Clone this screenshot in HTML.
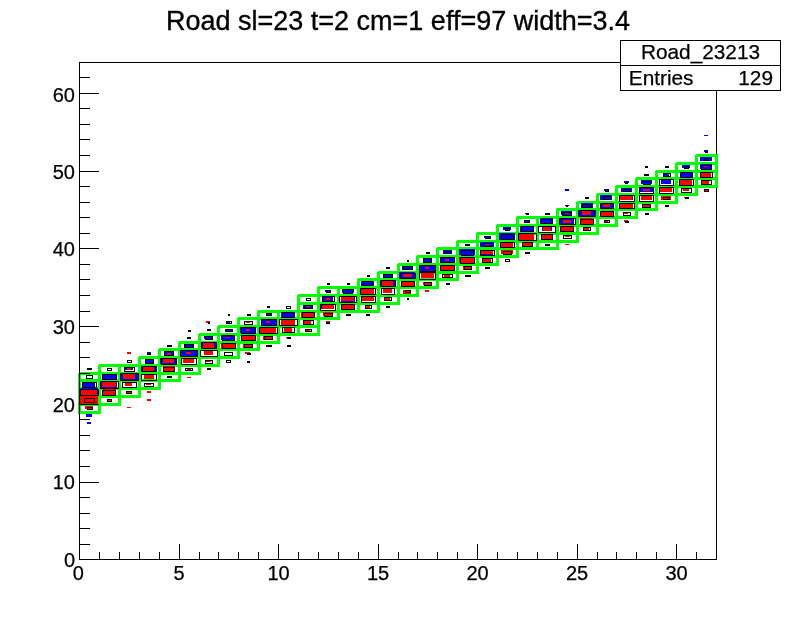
<!DOCTYPE html>
<html><head><meta charset="utf-8"><title>Road sl=23 t=2 cm=1 eff=97 width=3.4</title><style>html,body{margin:0;padding:0;background:#fff}svg{display:block}</style></head><body>
<svg width="796" height="622" viewBox="0 0 796 622" font-family="'Liberation Sans', sans-serif" shape-rendering="crispEdges">
<rect width="796" height="622" fill="#fff"/>
<rect x="79.5" y="62.5" width="637.0" height="497.0" fill="none" stroke="#000" stroke-width="1"/>
<path d="M79 404.5H99.5V412.5H79.5V404M79 396.5H99.5V404.5H79.5V396M79 388.5H99.5V396.5H79.5V388M79 380.5H99.5V388.5H79.5V380M79 373.5H99.5V380.5H79.5V373M99 396.5H119.5V404.5H99.5V396M99 388.5H119.5V396.5H99.5V388M99 380.5H119.5V388.5H99.5V380M99 373.5H119.5V380.5H99.5V373M99 365.5H119.5V373.5H99.5V365M119 388.5H139.5V396.5H119.5V388M119 380.5H139.5V388.5H119.5V380M119 373.5H139.5V380.5H119.5V373M119 365.5H139.5V373.5H119.5V365M139 380.5H159.5V388.5H139.5V380M139 373.5H159.5V380.5H139.5V373M139 365.5H159.5V373.5H139.5V365M139 357.5H159.5V365.5H139.5V357M159 373.5H179.5V380.5H159.5V373M159 365.5H179.5V373.5H159.5V365M159 357.5H179.5V365.5H159.5V357M159 349.5H179.5V357.5H159.5V349M179 365.5H199.5V373.5H179.5V365M179 357.5H199.5V365.5H179.5V357M179 349.5H199.5V357.5H179.5V349M179 342.5H199.5V349.5H179.5V342M199 357.5H218.5V365.5H199.5V357M199 349.5H218.5V357.5H199.5V349M199 342.5H218.5V349.5H199.5V342M199 334.5H218.5V342.5H199.5V334M218 349.5H238.5V357.5H218.5V349M218 342.5H238.5V349.5H218.5V342M218 334.5H238.5V342.5H218.5V334M218 326.5H238.5V334.5H218.5V326M238 342.5H258.5V349.5H238.5V342M238 334.5H258.5V342.5H238.5V334M238 326.5H258.5V334.5H238.5V326M238 318.5H258.5V326.5H238.5V318M258 334.5H278.5V342.5H258.5V334M258 326.5H278.5V334.5H258.5V326M258 318.5H278.5V326.5H258.5V318M258 311.5H278.5V318.5H258.5V311M278 326.5H298.5V334.5H278.5V326M278 318.5H298.5V326.5H278.5V318M278 311.5H298.5V318.5H278.5V311M298 326.5H318.5V334.5H298.5V326M298 318.5H318.5V326.5H298.5V318M298 311.5H318.5V318.5H298.5V311M298 303.5H318.5V311.5H298.5V303M298 295.5H318.5V303.5H298.5V295M318 311.5H338.5V318.5H318.5V311M318 303.5H338.5V311.5H318.5V303M318 295.5H338.5V303.5H318.5V295M318 287.5H338.5V295.5H318.5V287M338 303.5H358.5V311.5H338.5V303M338 295.5H358.5V303.5H338.5V295M338 287.5H358.5V295.5H338.5V287M358 303.5H378.5V311.5H358.5V303M358 295.5H378.5V303.5H358.5V295M358 287.5H378.5V295.5H358.5V287M358 279.5H378.5V287.5H358.5V279M378 295.5H398.5V303.5H378.5V295M378 287.5H398.5V295.5H378.5V287M378 279.5H398.5V287.5H378.5V279M378 272.5H398.5V279.5H378.5V272M398 287.5H417.5V295.5H398.5V287M398 279.5H417.5V287.5H398.5V279M398 272.5H417.5V279.5H398.5V272M398 264.5H417.5V272.5H398.5V264M417 279.5H437.5V287.5H417.5V279M417 272.5H437.5V279.5H417.5V272M417 264.5H437.5V272.5H417.5V264M417 256.5H437.5V264.5H417.5V256M437 272.5H457.5V279.5H437.5V272M437 264.5H457.5V272.5H437.5V264M437 256.5H457.5V264.5H437.5V256M437 248.5H457.5V256.5H437.5V248M457 264.5H477.5V272.5H457.5V264M457 256.5H477.5V264.5H457.5V256M457 248.5H477.5V256.5H457.5V248M457 241.5H477.5V248.5H457.5V241M477 256.5H497.5V264.5H477.5V256M477 248.5H497.5V256.5H477.5V248M477 241.5H497.5V248.5H477.5V241M477 233.5H497.5V241.5H477.5V233M497 248.5H517.5V256.5H497.5V248M497 241.5H517.5V248.5H497.5V241M497 233.5H517.5V241.5H497.5V233M497 225.5H517.5V233.5H497.5V225M517 241.5H537.5V248.5H517.5V241M517 233.5H537.5V241.5H517.5V233M517 225.5H537.5V233.5H517.5V225M517 217.5H537.5V225.5H517.5V217M537 241.5H557.5V248.5H537.5V241M537 233.5H557.5V241.5H537.5V233M537 225.5H557.5V233.5H537.5V225M537 217.5H557.5V225.5H537.5V217M557 233.5H577.5V241.5H557.5V233M557 225.5H577.5V233.5H557.5V225M557 217.5H577.5V225.5H557.5V217M557 209.5H577.5V217.5H557.5V209M577 225.5H597.5V233.5H577.5V225M577 217.5H597.5V225.5H577.5V217M577 209.5H597.5V217.5H577.5V209M577 202.5H597.5V209.5H577.5V202M597 217.5H616.5V225.5H597.5V217M597 209.5H616.5V217.5H597.5V209M597 202.5H616.5V209.5H597.5V202M597 194.5H616.5V202.5H597.5V194M616 209.5H636.5V217.5H616.5V209M616 202.5H636.5V209.5H616.5V202M616 194.5H636.5V202.5H616.5V194M616 186.5H636.5V194.5H616.5V186M636 202.5H656.5V209.5H636.5V202M636 194.5H656.5V202.5H636.5V194M636 186.5H656.5V194.5H636.5V186M636 178.5H656.5V186.5H636.5V178M656 194.5H676.5V202.5H656.5V194M656 186.5H676.5V194.5H656.5V186M656 178.5H676.5V186.5H656.5V178M656 171.5H676.5V178.5H656.5V171M676 186.5H696.5V194.5H676.5V186M676 178.5H696.5V186.5H676.5V178M676 171.5H696.5V178.5H676.5V171M676 163.5H696.5V171.5H676.5V163M696 178.5H716.5V186.5H696.5V178M696 171.5H716.5V178.5H696.5V171M696 163.5H716.5V171.5H696.5V163M696 155.5H716.5V163.5H696.5V155" fill="none" stroke="#00ff00" stroke-width="3" stroke-linejoin="miter"/>
<path d="M79.5 62.0V560.0M79.0 559.5H717.0M79.5 559.5v-16M99.5 559.5v-8M119.5 559.5v-8M139.5 559.5v-8M159.5 559.5v-8M179.5 559.5v-16M199.5 559.5v-8M218.5 559.5v-8M238.5 559.5v-8M258.5 559.5v-8M278.5 559.5v-16M298.5 559.5v-8M318.5 559.5v-8M338.5 559.5v-8M358.5 559.5v-8M378.5 559.5v-16M398.5 559.5v-8M417.5 559.5v-8M437.5 559.5v-8M457.5 559.5v-8M477.5 559.5v-16M497.5 559.5v-8M517.5 559.5v-8M537.5 559.5v-8M557.5 559.5v-8M577.5 559.5v-16M597.5 559.5v-8M616.5 559.5v-8M636.5 559.5v-8M656.5 559.5v-8M676.5 559.5v-16M696.5 559.5v-8M716.5 559.5v-8M79.5 559.5h19M79.5 544.5h10M79.5 528.5h10M79.5 513.5h10M79.5 497.5h10M79.5 482.5h19M79.5 466.5h10M79.5 450.5h10M79.5 435.5h10M79.5 419.5h10M79.5 404.5h19M79.5 388.5h10M79.5 373.5h10M79.5 357.5h10M79.5 342.5h10M79.5 326.5h19M79.5 311.5h10M79.5 295.5h10M79.5 279.5h10M79.5 264.5h10M79.5 248.5h19M79.5 233.5h10M79.5 217.5h10M79.5 202.5h10M79.5 186.5h10M79.5 171.5h19M79.5 155.5h10M79.5 139.5h10M79.5 124.5h10M79.5 108.5h10M79.5 93.5h19M79.5 77.5h10M79.5 62.5h10" stroke="#000" stroke-width="1" fill="none"/>
<path d="M83 383h12v4h-12zM80 388h18v8h-18zM86 414h6v3h-6zM87 422h4v2h-4zM102 374h14v5h-14zM101 381h16v7h-16zM125 367h8v3h-8zM120 373h18v7h-18zM147 352h4v2h-4zM145 359h8v4h-8zM141 366h16v6h-16zM165 352h8v3h-8zM160 358h17v6h-17zM184 344h9v3h-9zM181 351h17v6h-17zM204 336h8v3h-8zM201 343h15v5h-15zM227 322h3v1h-3zM226 329h6v3h-6zM221 335h13v5h-13zM240 327h15v6h-15zM266 313h5v3h-5zM262 320h14v6h-14zM281 312h13v6h-13zM303 305h9v4h-9zM325 290h5v2h-5zM322 297h11v4h-11zM321 304h13v5h-13zM342 289h12v4h-12zM341 296h14v6h-14zM361 281h13v5h-13zM383 274h9v3h-9zM380 280h15v6h-15zM402 266h10v4h-10zM399 272h16v7h-16zM424 258h8v4h-8zM420 265h15v6h-15zM443 250h9v4h-9zM441 258h13v4h-13zM459 249h16v6h-16zM484 236h6v2h-6zM480 242h14v5h-14zM481 251h12v4h-12zM503 227h8v3h-8zM499 233h16v7h-16zM525 213h2v1h-2zM525 220h4v2h-4zM520 226h13v6h-13zM540 218h13v6h-13zM542 227h10v4h-10zM565 189h4v2h-4zM565 205h4v1h-4zM561 211h11v4h-11zM560 218h14v6h-14zM581 203h12v5h-12zM578 210h18v7h-18zM604 189h4v2h-4zM600 195h12v5h-12zM600 203h13v5h-13zM624 181h5v2h-5zM621 188h11v4h-11zM620 195h13v5h-13zM641 180h11v4h-11zM640 188h13v4h-13zM664 174h5v2h-5zM661 180h10v4h-10zM682 165h8v3h-8zM680 172h12v5h-12zM704 135h4v1h-4zM704 150h4v2h-4zM700 157h12v4h-12zM700 164h12v5h-12z" fill="#0000ff"/>
<path d="M81 390h16v5h-16zM80 396h18v8h-18zM85 406h8v3h-8zM102 382h14v5h-14zM103 389h13v6h-13zM108 400h3v1h-3zM127 352h4v2h-4zM127 368h4v2h-4zM123 374h12v5h-12zM125 383h7v3h-7zM127 392h4v1h-4zM127 407h4v1h-4zM143 367h11v4h-11zM144 375h10v4h-10zM146 383h5v2h-5zM147 391h4v2h-4zM147 399h4v2h-4zM167 353h4v2h-4zM163 359h11v4h-11zM163 366h12v6h-12zM186 352h5v2h-5zM183 359h11v4h-11zM187 369h4v1h-4zM187 377h4v1h-4zM206 321h4v2h-4zM203 343h11v5h-11zM204 351h9v4h-9zM206 360h5v2h-5zM226 337h4v1h-4zM221 343h14v6h-14zM246 321h4v2h-4zM246 329h4v2h-4zM242 336h14v5h-14zM243 344h9v4h-9zM245 352h5v2h-5zM266 321h4v2h-4zM260 327h16v6h-16zM263 336h9v4h-9zM281 320h14v5h-14zM284 328h8v4h-8zM286 337h4v1h-4zM306 306h4v1h-4zM301 312h13v6h-13zM304 321h7v3h-7zM306 329h4v2h-4zM326 298h4v2h-4zM322 304h12v5h-12zM323 312h10v4h-10zM326 321h4v2h-4zM341 296h13v5h-13zM342 305h13v5h-13zM361 288h13v6h-13zM362 297h12v4h-12zM366 306h4v2h-4zM382 281h11v5h-11zM383 289h9v4h-9zM385 298h5v2h-5zM403 274h9v3h-9zM401 281h13v5h-13zM403 290h8v4h-8zM425 267h4v2h-4zM421 273h13v5h-13zM423 282h8v3h-8zM425 290h4v2h-4zM445 259h4v2h-4zM441 265h13v5h-13zM444 274h6v3h-6zM459 257h15v6h-15zM463 266h8v4h-8zM485 244h4v1h-4zM481 251h12v3h-12zM483 258h8v4h-8zM501 242h12v5h-12zM501 250h12v4h-12zM519 234h15v6h-15zM522 243h10v4h-10zM543 227h8v4h-8zM542 235h10v4h-10zM565 212h4v2h-4zM563 220h8v3h-8zM560 226h13v5h-13zM565 236h5v1h-5zM565 244h4v1h-4zM582 211h9v4h-9zM580 218h13v6h-13zM584 228h5v2h-5zM603 204h7v3h-7zM600 211h13v5h-13zM604 220h4v2h-4zM620 195h12v5h-12zM620 203h13v5h-13zM624 213h4v1h-4zM624 220h4v2h-4zM643 189h7v2h-7zM641 196h11v4h-11zM642 204h9v3h-9zM660 188h12v4h-12zM661 196h10v4h-10zM680 180h12v5h-12zM683 189h6v2h-6zM684 197h4v1h-4zM704 166h4v1h-4zM701 172h10v5h-10zM702 181h7v3h-7zM705 190h3v1h-3z" fill="#ff0000"/>
<path d="M87.5 368.5h4v1h-4zM86.5 375.5h6v3h-6zM82.5 382.5h14v5h-14zM80.5 389.5h18v6h-18zM84.5 398.5h10v4h-10zM87.5 407.5h5v2h-5zM107.5 368.5h4v2h-4zM102.5 374.5h14v5h-14zM100.5 381.5h18v7h-18zM102.5 390.5h13v5h-13zM107.5 399.5h4v2h-4zM127.5 360.5h4v2h-4zM124.5 367.5h10v4h-10zM120.5 373.5h18v7h-18zM122.5 382.5h14v5h-14zM126.5 391.5h5v2h-5zM147.5 353.5h3v1h-3zM145.5 359.5h8v4h-8zM142.5 366.5h13v5h-13zM141.5 374.5h15v6h-15zM144.5 383.5h9v3h-9zM167.5 345.5h4v1h-4zM164.5 351.5h9v4h-9zM161.5 358.5h15v6h-15zM163.5 367.5h11v4h-11zM167.5 376.5h4v1h-4zM188.5 330.5h2v1h-2zM187.5 337.5h3v1h-3zM184.5 344.5h9v3h-9zM180.5 350.5h17v6h-17zM181.5 358.5h15v6h-15zM185.5 368.5h7v2h-7zM208.5 322.5h1v1h-1zM207.5 329.5h3v1h-3zM205.5 336.5h7v3h-7zM201.5 342.5h15v6h-15zM200.5 350.5h17v6h-17zM205.5 360.5h7v3h-7zM207.5 368.5h3v1h-3zM228.5 314.5h1v1h-1zM226.5 321.5h5v2h-5zM225.5 329.5h7v2h-7zM222.5 335.5h12v5h-12zM222.5 343.5h13v5h-13zM224.5 352.5h8v3h-8zM226.5 360.5h4v2h-4zM247.5 314.5h3v1h-3zM244.5 321.5h8v3h-8zM241.5 327.5h14v6h-14zM241.5 335.5h14v5h-14zM244.5 344.5h8v3h-8zM247.5 353.5h3v1h-3zM247.5 361.5h2v1h-2zM267.5 306.5h2v1h-2zM266.5 313.5h5v2h-5zM261.5 319.5h15v6h-15zM259.5 327.5h18v6h-18zM264.5 336.5h8v3h-8zM266.5 345.5h5v1h-5zM286.5 306.5h4v2h-4zM282.5 312.5h12v5h-12zM279.5 319.5h18v6h-18zM282.5 327.5h12v5h-12zM287.5 337.5h3v1h-3zM287.5 345.5h3v1h-3zM306.5 298.5h4v2h-4zM304.5 305.5h8v3h-8zM302.5 312.5h12v5h-12zM303.5 320.5h10v4h-10zM305.5 329.5h6v2h-6zM327.5 283.5h2v1h-2zM326.5 290.5h4v2h-4zM322.5 296.5h12v5h-12zM320.5 304.5h15v6h-15zM324.5 313.5h8v3h-8zM326.5 322.5h3v1h-3zM347.5 283.5h2v1h-2zM343.5 289.5h9v4h-9zM339.5 296.5h17v6h-17zM341.5 304.5h13v5h-13zM346.5 314.5h4v1h-4zM367.5 275.5h2v1h-2zM363.5 281.5h9v4h-9zM360.5 288.5h15v6h-15zM361.5 296.5h14v6h-14zM365.5 305.5h6v3h-6zM366.5 314.5h3v1h-3zM386.5 267.5h3v1h-3zM383.5 274.5h9v3h-9zM380.5 280.5h15v6h-15zM381.5 288.5h13v6h-13zM384.5 297.5h7v3h-7zM386.5 306.5h3v1h-3zM407.5 260.5h1v1h-1zM403.5 266.5h9v3h-9zM400.5 273.5h15v5h-15zM401.5 281.5h13v5h-13zM405.5 290.5h5v2h-5zM407.5 298.5h1v1h-1zM426.5 252.5h3v1h-3zM423.5 258.5h8v4h-8zM419.5 265.5h16v6h-16zM419.5 272.5h16v7h-16zM424.5 282.5h7v3h-7zM444.5 251.5h6v2h-6zM440.5 257.5h14v5h-14zM440.5 265.5h14v5h-14zM442.5 274.5h10v3h-10zM446.5 283.5h3v1h-3zM465.5 244.5h4v1h-4zM461.5 250.5h12v5h-12zM460.5 257.5h14v6h-14zM464.5 266.5h7v3h-7zM465.5 275.5h5v1h-5zM485.5 236.5h5v2h-5zM483.5 243.5h8v3h-8zM480.5 250.5h14v5h-14zM482.5 258.5h10v4h-10zM485.5 267.5h4v1h-4zM505.5 228.5h4v2h-4zM501.5 234.5h12v5h-12zM500.5 242.5h14v5h-14zM503.5 251.5h8v3h-8zM505.5 259.5h4v2h-4zM526.5 213.5h2v1h-2zM524.5 220.5h5v2h-5zM521.5 226.5h12v5h-12zM518.5 233.5h18v7h-18zM522.5 242.5h10v4h-10zM525.5 252.5h4v1h-4zM545.5 213.5h4v1h-4zM541.5 219.5h11v4h-11zM538.5 226.5h17v6h-17zM541.5 234.5h11v5h-11zM545.5 244.5h4v1h-4zM566.5 205.5h1v1h-1zM562.5 212.5h9v3h-9zM559.5 218.5h16v6h-16zM560.5 226.5h13v5h-13zM563.5 235.5h8v3h-8zM585.5 197.5h3v1h-3zM582.5 204.5h9v3h-9zM579.5 210.5h15v6h-15zM580.5 219.5h13v5h-13zM583.5 227.5h7v3h-7zM605.5 189.5h3v2h-3zM603.5 196.5h7v3h-7zM600.5 203.5h13v5h-13zM600.5 211.5h13v5h-13zM604.5 220.5h5v2h-5zM625.5 182.5h2v1h-2zM623.5 189.5h7v2h-7zM619.5 195.5h15v6h-15zM619.5 203.5h15v5h-15zM623.5 212.5h7v3h-7zM625.5 221.5h3v1h-3zM645.5 166.5h2v1h-2zM644.5 174.5h4v1h-4zM643.5 181.5h7v3h-7zM639.5 187.5h14v6h-14zM639.5 195.5h14v6h-14zM642.5 204.5h8v3h-8zM645.5 213.5h3v1h-3zM665.5 166.5h3v1h-3zM663.5 173.5h7v3h-7zM659.5 179.5h14v6h-14zM659.5 187.5h14v6h-14zM663.5 197.5h6v2h-6zM665.5 205.5h3v1h-3zM684.5 166.5h4v2h-4zM680.5 172.5h12v5h-12zM679.5 179.5h14v6h-14zM681.5 188.5h10v4h-10zM685.5 197.5h3v1h-3zM705.5 151.5h2v1h-2zM704.5 158.5h4v2h-4zM701.5 165.5h10v4h-10zM700.5 172.5h12v5h-12zM701.5 180.5h10v4h-10zM704.5 189.5h4v2h-4z" fill="none" stroke="#000" stroke-width="1"/>
<g font-size="20px" fill="#000" shape-rendering="auto" stroke="#000" stroke-width="0.25">
<text x="78.4" y="580" text-anchor="middle">0</text>
<text x="179.1" y="580" text-anchor="middle">5</text>
<text x="278.6" y="580" text-anchor="middle">10</text>
<text x="378.1" y="580" text-anchor="middle">15</text>
<text x="477.6" y="580" text-anchor="middle">20</text>
<text x="577.1" y="580" text-anchor="middle">25</text>
<text x="676.6" y="580" text-anchor="middle">30</text>
<text x="75" y="567.2" text-anchor="end">0</text>
<text x="75" y="489.4" text-anchor="end">10</text>
<text x="75" y="411.7" text-anchor="end">20</text>
<text x="75" y="333.9" text-anchor="end">30</text>
<text x="75" y="256.2" text-anchor="end">40</text>
<text x="75" y="179.2" text-anchor="end">50</text>
<text x="75" y="101.5" text-anchor="end">60</text>
</g>
<text x="398" y="29.9" font-size="27px" stroke="#000" stroke-width="0.35" text-anchor="middle" fill="#000" shape-rendering="auto">Road sl=23 t=2 cm=1 eff=97 width=3.4</text>
<rect x="620.5" y="40.5" width="160" height="50" fill="#fff" stroke="#000" stroke-width="1"/>
<path d="M620.5 65.5h160" stroke="#000" stroke-width="1"/>
<g font-size="20.8px" fill="#000" shape-rendering="auto" stroke="#000" stroke-width="0.25"><text x="700.5" y="58.9" text-anchor="middle">Road_23213</text><text x="628.8" y="85">Entries</text><text x="773" y="85" text-anchor="end">129</text></g>
</svg>
</body></html>
